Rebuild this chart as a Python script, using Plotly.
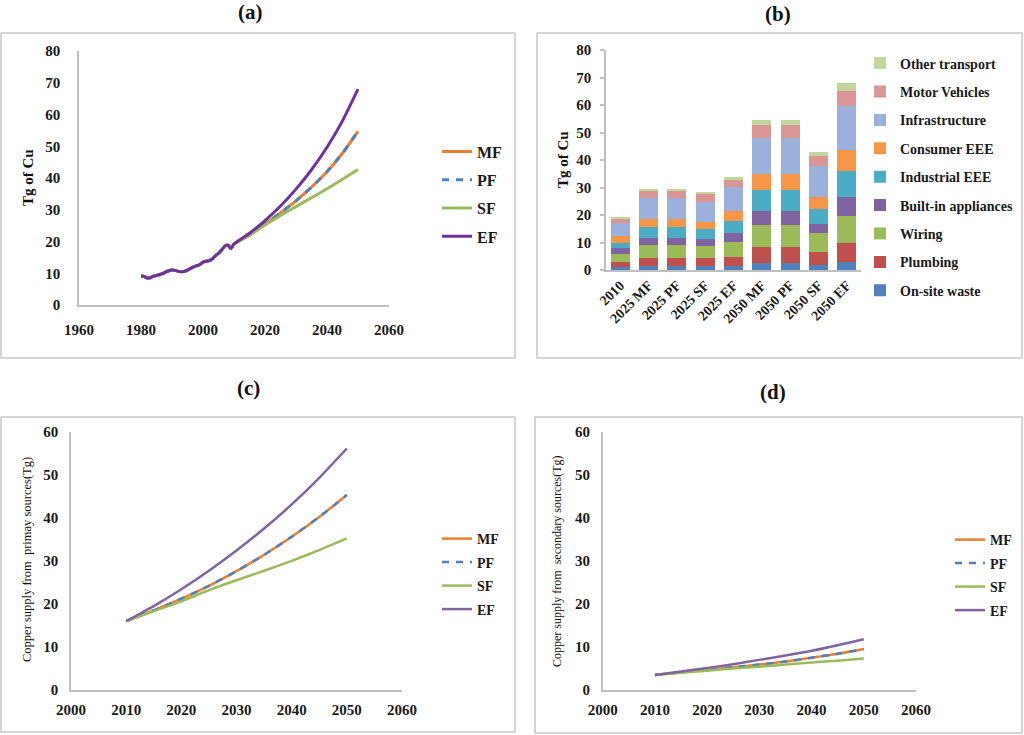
import plotly.graph_objects as go

W, H = 1024, 735


def px(x):
    return x / W


def py(y):
    return 1 - y / H


# ---------------- data ----------------
# (a) historical copper use, 1980-2010
hist_years = [1980, 1981, 1982, 1983, 1984, 1985, 1986, 1987, 1988, 1989, 1990,
              1991, 1992, 1993, 1994, 1995, 1996, 1997, 1998, 1999, 2000,
              2001, 2002, 2003, 2004, 2005, 2006, 2007, 2008, 2009, 2010]
hist_use = [9.1, 9.0, 8.5, 8.6, 9.1, 9.3, 9.6, 9.9, 10.4, 10.8, 11.0,
            10.9, 10.6, 10.5, 10.6, 11.0, 11.5, 12.0, 12.4, 12.7, 13.5,
            13.8, 14.0, 14.5, 15.5, 16.3, 17.3, 18.5, 18.9, 17.8, 19.2]
# (a) scenario projections after 2010
proj_years = [2015, 2020, 2025, 2030, 2035, 2040, 2045, 2050]
a_MF = [22.0, 25.5, 29.0, 32.8, 37.1, 42.0, 47.8, 54.7]
a_PF = [22.0, 25.5, 29.0, 32.8, 37.1, 42.0, 47.8, 54.7]
a_SF = [22.0, 25.2, 28.2, 31.0, 33.8, 36.6, 39.6, 42.7]
a_EF = [22.6, 26.6, 31.2, 36.5, 42.6, 49.7, 58.0, 68.0]

# (b) stacked demand by end use
b_categories = ["2010", "2025 MF", "2025 PF", "2025 SF", "2025 EF",
                "2050 MF", "2050 PF", "2050 SF", "2050 EF"]
b_names = ["On-site waste", "Plumbing", "Wiring", "Built-in appliances",
           "Industrial EEE", "Consumer EEE", "Infrastructure",
           "Motor Vehicles", "Other transport"]
b_onsite = [1.0, 1.5, 1.5, 1.5, 1.5, 2.4, 2.4, 1.8, 2.8]
b_plumbing = [2.0, 3.0, 3.0, 2.9, 3.4, 5.9, 5.9, 4.8, 6.9]
b_wiring = [2.7, 4.6, 4.6, 4.2, 5.2, 8.0, 8.0, 6.7, 9.9]
b_builtin = [2.2, 2.7, 2.7, 2.7, 3.4, 5.3, 5.3, 3.6, 7.0]
b_industrial = [2.1, 3.8, 3.8, 3.5, 4.4, 7.5, 7.5, 5.2, 9.3]
b_consumer = [2.2, 3.1, 3.1, 2.7, 3.4, 5.7, 5.7, 4.5, 7.6]
b_infra = [4.8, 7.4, 7.4, 7.4, 8.8, 13.3, 13.3, 11.2, 16.3]
b_motor = [1.6, 2.7, 2.7, 2.8, 2.7, 4.7, 4.7, 3.5, 5.2]
b_other = [0.5, 0.7, 0.7, 0.6, 1.0, 1.8, 1.8, 1.5, 2.9]
b_values = [b_onsite, b_plumbing, b_wiring, b_builtin, b_industrial,
            b_consumer, b_infra, b_motor, b_other]
b_colors = ["#4F81BD", "#C0504D", "#9BBB59", "#8064A2", "#4BACC6",
            "#F79646", "#9BB1DB", "#D99694", "#C3D69B"]

# (c) primary supply and (d) secondary supply
cd_years = [2010, 2015, 2020, 2025, 2030, 2035, 2040, 2045, 2050]
c_MF = [16.0, 18.5, 21.2, 24.2, 27.6, 31.4, 35.6, 40.2, 45.3]
c_PF = [16.0, 18.5, 21.2, 24.2, 27.6, 31.4, 35.6, 40.2, 45.3]
c_SF = [16.0, 18.3, 20.6, 23.2, 25.5, 27.7, 30.0, 32.5, 35.2]
c_EF = [16.0, 19.5, 23.4, 27.7, 32.4, 37.5, 43.1, 49.3, 56.1]
d_MF = [3.5, 4.1, 4.7, 5.3, 5.9, 6.6, 7.5, 8.4, 9.5]
d_PF = [3.5, 4.1, 4.7, 5.3, 5.9, 6.6, 7.5, 8.4, 9.5]
d_SF = [3.5, 4.0, 4.5, 5.0, 5.4, 5.9, 6.4, 6.8, 7.3]
d_EF = [3.5, 4.3, 5.1, 6.0, 7.0, 8.0, 9.1, 10.4, 11.8]

scen_names = ["MF", "PF", "SF", "EF"]

# ---------------- styling ----------------
FONT = "Liberation Serif"
C_MF = "#ED7D31"
C_PF = "#4F81BD"
C_SF = "#9BBB59"
C_EF_A = "#7030A0"
C_EF = "#8064A2"
AXC = "#BFBFBF"

fig = go.Figure()

# (a)
a_series = [a_MF, a_PF, a_SF, a_EF]
a_styles = [dict(color=C_MF, width=3), dict(color=C_PF, width=3, dash="7px,7px"),
            dict(color=C_SF, width=3), dict(color=C_EF_A, width=3)]
for name, vals, st in zip(scen_names, a_series, a_styles):
    fig.add_trace(go.Scatter(x=hist_years + proj_years, y=hist_use + vals,
                             mode="lines", name=name,
                             line=dict(st, shape="spline", smoothing=0.5),
                             xaxis="x", yaxis="y", legend="legend",
                             legendgroup="a" + name))

# (b)
n_b = len(b_names)
for i, (name, vals, col) in enumerate(zip(b_names, b_values, b_colors)):
    fig.add_trace(go.Bar(x=b_categories, y=vals, name=name, marker_color=col,
                         marker_line_width=0, xaxis="x2", yaxis="y2",
                         legend="legend2", legendgroup="b" + name,
                         legendrank=100 + n_b - i))

# (c) and (d)
cd_styles = [dict(color=C_MF, width=2.5), dict(color=C_PF, width=2.5, dash="7px,7px"),
             dict(color=C_SF, width=2.5), dict(color=C_EF, width=2.5)]
for name, vals, st in zip(scen_names, [c_MF, c_PF, c_SF, c_EF], cd_styles):
    fig.add_trace(go.Scatter(x=cd_years, y=vals, mode="lines", name=name,
                             line=dict(st, shape="spline", smoothing=0.6),
                             xaxis="x3", yaxis="y3", legend="legend3",
                             legendgroup="c" + name))
for name, vals, st in zip(scen_names, [d_MF, d_PF, d_SF, d_EF], cd_styles):
    fig.add_trace(go.Scatter(x=cd_years, y=vals, mode="lines", name=name,
                             line=dict(st, shape="spline", smoothing=0.6),
                             xaxis="x4", yaxis="y4", legend="legend4",
                             legendgroup="d" + name))

tickfont = dict(family=FONT, size=15, color="#1a1a1a", weight="bold")


def ax(domain, rng, dtick, anchor, standoff, **kw):
    d = dict(domain=domain, range=rng, dtick=dtick, anchor=anchor,
             showline=True, linecolor=AXC, linewidth=1.5, showgrid=False,
             zeroline=False, ticks="", tickfont=tickfont, automargin=False,
             ticklabelstandoff=standoff, fixedrange=True)
    d.update(kw)
    return d


fig.update_layout(
    width=W, height=H, margin=dict(l=0, r=0, t=0, b=0, autoexpand=False),
    paper_bgcolor="white", plot_bgcolor="white",
    barmode="stack", bargap=0.32,
    xaxis=ax([px(79), px(389)], [1960, 2060], 20, "y", 10),
    yaxis=ax([py(305), py(51)], [0, 80], 10, "x", 14),
    xaxis2=dict(domain=[px(606), px(861)], anchor="y2", type="category",
                showline=True, linecolor=AXC, linewidth=1.5, showgrid=False,
                ticks="", tickangle=-45, fixedrange=True, automargin=False,
                tickfont=dict(family=FONT, size=14, color="#1a1a1a", weight="bold")),
    yaxis2=ax([py(270), py(50)], [0, 80], 10, "x2", 6, ticks="outside",
              ticklen=4, tickcolor=AXC, tickwidth=1.5),
    xaxis3=ax([px(71), px(402)], [2000, 2060], 10, "y3", 5),
    yaxis3=ax([py(690), py(431.7)], [0, 60], 10, "x3", 8),
    xaxis4=ax([px(602.7), px(916)], [2000, 2060], 10, "y4", 5),
    yaxis4=ax([py(690), py(431.7)], [0, 60], 10, "x4", 8),
    legend=dict(x=px(437), y=py(194), xanchor="left", yanchor="middle",
                traceorder="grouped", tracegroupgap=4.5, bgcolor="rgba(0,0,0,0)",
                font=dict(family=FONT, size=16, color="#1a1a1a", weight="bold")),
    legend2=dict(x=px(860), y=py(177), xanchor="left", yanchor="middle",
                 traceorder="grouped", tracegroupgap=7.2,
                 bgcolor="rgba(0,0,0,0)",
                 font=dict(family=FONT, size=14, color="#1a1a1a", weight="bold")),
    legend3=dict(x=px(437), y=py(574), xanchor="left", yanchor="middle",
                 traceorder="grouped", tracegroupgap=2.3, bgcolor="rgba(0,0,0,0)",
                 font=dict(family=FONT, size=14, color="#1a1a1a", weight="bold")),
    legend4=dict(x=px(950), y=py(575), xanchor="left", yanchor="middle",
                 traceorder="grouped", tracegroupgap=2.3, bgcolor="rgba(0,0,0,0)",
                 font=dict(family=FONT, size=14, color="#1a1a1a", weight="bold")),
)

# panel frames
frames = [(1, 33, 515, 358), (537, 33, 1022, 358), (1, 417, 515, 732), (535, 417, 1022, 733)]
for x0, y0, x1, y1 in frames:
    fig.add_shape(type="rect", xref="paper", yref="paper", x0=px(x0), x1=px(x1),
                  y0=py(y1), y1=py(y0), line=dict(color="#C8C8C8", width=1.5),
                  fillcolor="rgba(0,0,0,0)", layer="below")

# panel titles
titles = [("(a)", 250, 12), ("(b)", 778, 14), ("(c)", 248, 388), ("(d)", 773, 392)]
for t, x, y in titles:
    fig.add_annotation(text=t, x=px(x), y=py(y), xref="paper", yref="paper",
                       showarrow=False, xanchor="center", yanchor="middle",
                       font=dict(family=FONT, size=21, color="#111", weight="bold"))

# y-axis titles
ytitles = [("Tg of Cu", 28, 178, 15, "bold"), ("Tg of Cu", 563, 160, 15, "bold"),
           ("Copper supply from  primay sources(Tg)", 27, 560, 12.5, "normal"),
           ("Copper supply from  secondary sources(Tg)", 557, 561, 12, "normal")]
for t, x, y, s, wt in ytitles:
    fig.add_annotation(text=t, x=px(x), y=py(y), xref="paper", yref="paper",
                       showarrow=False, textangle=-90, xanchor="center",
                       yanchor="middle",
                       font=dict(family=FONT, size=s, color="#111", weight=wt))

fig.write_html(
    "out.html",
    config={"displayModeBar": False},
    post_script="document.body.style.margin='0';document.body.style.overflow='hidden';",
)
